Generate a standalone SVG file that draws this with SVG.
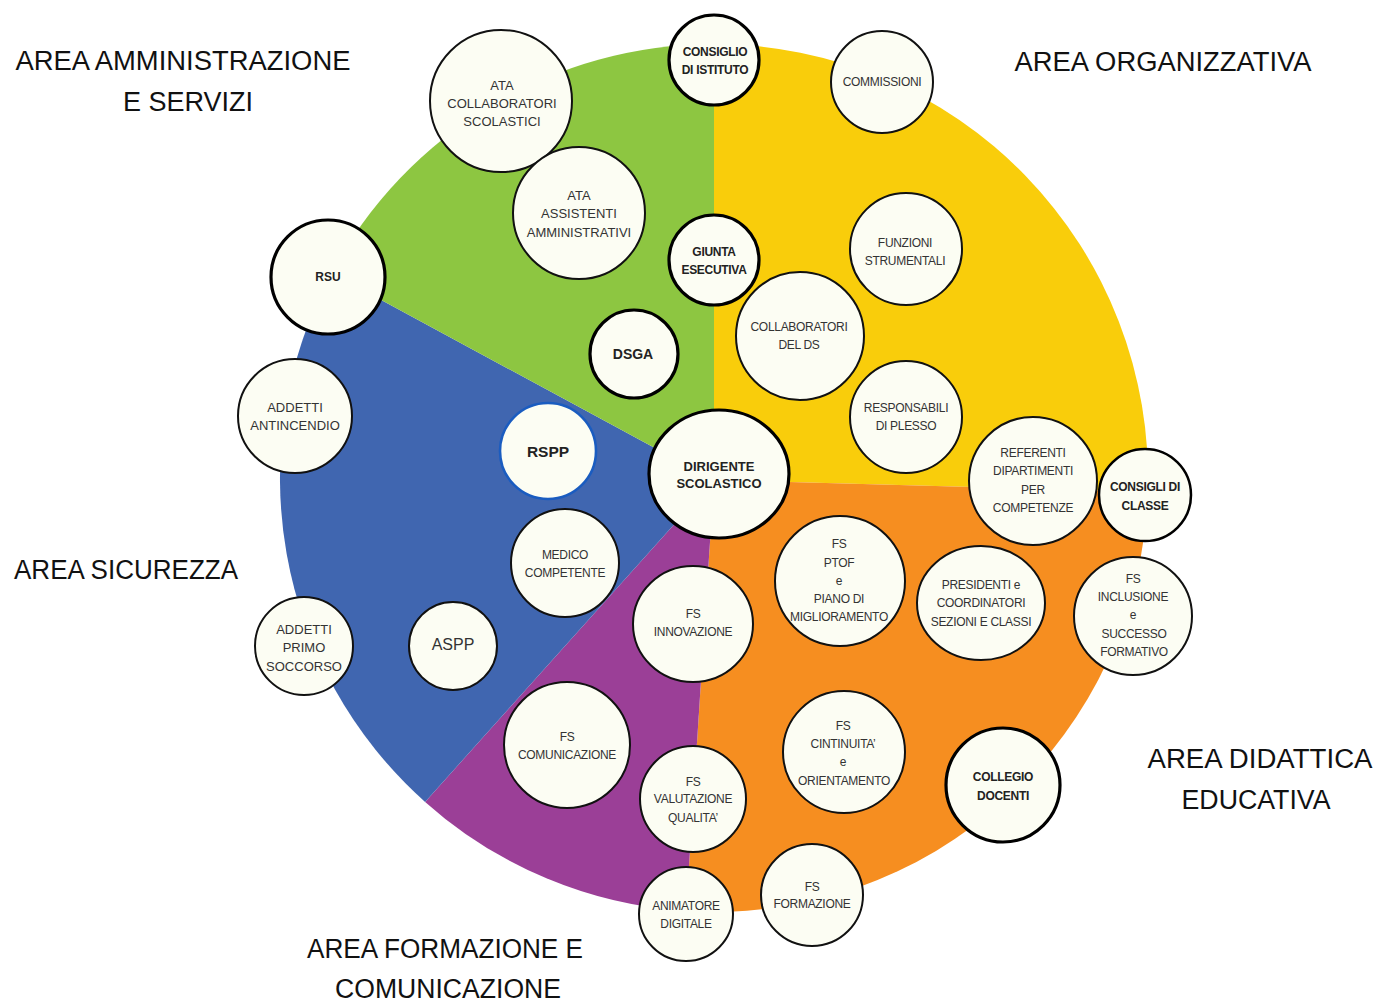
<svg xmlns="http://www.w3.org/2000/svg" width="1377" height="1003" viewBox="0 0 1377 1003">
<style>
.area{font-family:"Liberation Sans",Arial,sans-serif;font-size:27px;fill:#111;text-anchor:middle}
.n circle,.n ellipse{fill:#FCFDF3;stroke:#111;stroke-width:2}
.b circle,.b ellipse{stroke:#000;stroke-width:3.2}
.n text{font-family:"Liberation Sans",Arial,sans-serif;font-size:12px;letter-spacing:-0.3px;fill:#333;text-anchor:middle}
.b text{font-weight:bold;fill:#222}
.n text.m{font-size:13px;letter-spacing:0}
</style>
<rect width="1377" height="1003" fill="#fff"/>
<g id="pie">
<path d="M714,480 L714,44 A434,434 0 0 1 1147.8,491.7 Z" fill="#F9CD0B"/>
<path d="M714,480 L1147.8,491.7 A434,434 0 0 1 686.1,911.1 Z" fill="#F68E20"/>
<path d="M714,480 L686.1,911.1 A434,434 0 0 1 425.1,801.9 Z" fill="#9B3F97"/>
<path d="M714,480 L425.1,801.9 A434,434 0 0 1 331.4,273.1 Z" fill="#4066B0"/>
<path d="M714,480 L331.4,273.1 A434,434 0 0 1 714,44 Z" fill="#8DC641"/>
</g>
<g id="labels">
<text class="area" x="183" y="70" textLength="335" lengthAdjust="spacingAndGlyphs">AREA AMMINISTRAZIONE</text>
<text class="area" x="188" y="111" textLength="130" lengthAdjust="spacingAndGlyphs">E SERVIZI</text>
<text class="area" x="1163" y="71" textLength="297" lengthAdjust="spacingAndGlyphs">AREA ORGANIZZATIVA</text>
<text class="area" x="126" y="579" textLength="224" lengthAdjust="spacingAndGlyphs">AREA SICUREZZA</text>
<text class="area" x="1260" y="768" textLength="225" lengthAdjust="spacingAndGlyphs">AREA DIDATTICA</text>
<text class="area" x="1256" y="809" textLength="149" lengthAdjust="spacingAndGlyphs">EDUCATIVA</text>
<text class="area" x="445" y="958" textLength="276" lengthAdjust="spacingAndGlyphs">AREA FORMAZIONE E</text>
<text class="area" x="448" y="998" textLength="226" lengthAdjust="spacingAndGlyphs">COMUNICAZIONE</text>
</g>
<g id="connectors"></g>
<g id="n-ata-coll" class="n"><circle cx="501" cy="101" r="71"/><text class="m" x="502" y="90">ATA</text><text class="m" x="502" y="108">COLLABORATORI</text><text class="m" x="502" y="126">SCOLASTICI</text></g>
<g id="n-ata-ass" class="n"><circle cx="579" cy="213" r="66"/><text class="m" x="579" y="200">ATA</text><text class="m" x="579" y="218">ASSISTENTI</text><text class="m" x="579" y="237">AMMINISTRATIVI</text></g>
<g id="n-consiglio-istituto" class="n b"><circle cx="714" cy="60" r="45"/><text x="715" y="56">CONSIGLIO</text><text x="715" y="74">DI ISTITUTO</text></g>
<g id="n-giunta" class="n b"><circle cx="714" cy="260" r="45"/><text x="714" y="256">GIUNTA</text><text x="714" y="274">ESECUTIVA</text></g>
<g id="n-commissioni" class="n"><circle cx="882" cy="82" r="51"/><text x="882" y="86">COMMISSIONI</text></g>
<g id="n-funzioni" class="n"><circle cx="906" cy="249" r="56"/><text x="905" y="247">FUNZIONI</text><text x="905" y="265">STRUMENTALI</text></g>
<g id="n-collab-ds" class="n"><circle cx="800" cy="336" r="64"/><text x="799" y="331">COLLABORATORI</text><text x="799" y="349">DEL DS</text></g>
<g id="n-dsga" class="n b"><circle cx="634" cy="354" r="44"/><text x="633" y="359" style="font-size:14px;letter-spacing:0">DSGA</text></g>
<g id="n-rsu" class="n b"><circle cx="328" cy="277" r="57"/><text x="328" y="281" style="letter-spacing:0">RSU</text></g>
<g id="n-antincendio" class="n"><circle cx="295" cy="416" r="57"/><text class="m" x="295" y="412">ADDETTI</text><text class="m" x="295" y="430">ANTINCENDIO</text></g>
<g id="n-rspp" class="n"><circle cx="548" cy="451" r="48" style="stroke:#1A5CC0;stroke-width:2.6"/><text x="548" y="457" style="font-size:15.5px;font-weight:bold;letter-spacing:0;fill:#222">RSPP</text></g>
<g id="n-dirigente" class="n b"><ellipse cx="719" cy="474" rx="70" ry="64"/><text x="719" y="471" style="font-size:13px;letter-spacing:0">DIRIGENTE</text><text x="719" y="488" style="font-size:13px;letter-spacing:0">SCOLASTICO</text></g>
<g id="n-responsabili" class="n"><circle cx="906" cy="417" r="56"/><text x="906" y="412">RESPONSABILI</text><text x="906" y="430">DI PLESSO</text></g>
<g id="n-referenti" class="n"><circle cx="1033" cy="481" r="64"/><text x="1033" y="457">REFERENTI</text><text x="1033" y="475">DIPARTIMENTI</text><text x="1033" y="494">PER</text><text x="1033" y="512">COMPETENZE</text></g>
<g id="n-consigli-classe" class="n b"><circle cx="1145" cy="495" r="46" style="stroke-width:2.5"/><text x="1145" y="491">CONSIGLI DI</text><text x="1145" y="510">CLASSE</text></g>
<g id="n-medico" class="n"><circle cx="565" cy="563" r="54"/><text x="565" y="559">MEDICO</text><text x="565" y="577">COMPETENTE</text></g>
<g id="n-fs-ptof" class="n"><circle cx="840" cy="581" r="65"/><text x="839" y="548">FS</text><text x="839" y="567">PTOF</text><text x="839" y="585">e</text><text x="839" y="603">PIANO DI</text><text x="839" y="621">MIGLIORAMENTO</text></g>
<g id="n-presidenti" class="n"><ellipse cx="981" cy="603" rx="64" ry="57"/><text x="981" y="589">PRESIDENTI e</text><text x="981" y="607">COORDINATORI</text><text x="981" y="626">SEZIONI E CLASSI</text></g>
<g id="n-fs-inclusione" class="n"><circle cx="1133" cy="616" r="59"/><text x="1133" y="583">FS</text><text x="1133" y="601">INCLUSIONE</text><text x="1133" y="619">e</text><text x="1134" y="638">SUCCESSO</text><text x="1134" y="656">FORMATIVO</text></g>
<g id="n-fs-innovazione" class="n"><ellipse cx="693" cy="624" rx="60" ry="58"/><text x="693" y="618">FS</text><text x="693" y="636">INNOVAZIONE</text></g>
<g id="n-primo-soccorso" class="n"><circle cx="304" cy="646" r="49"/><text class="m" x="304" y="634">ADDETTI</text><text class="m" x="304" y="652">PRIMO</text><text class="m" x="304" y="671">SOCCORSO</text></g>
<g id="n-aspp" class="n"><circle cx="453" cy="646" r="44"/><text x="453" y="650" style="font-size:16px;letter-spacing:0">ASPP</text></g>
<g id="n-fs-comunicazione" class="n"><circle cx="567" cy="745" r="63"/><text x="567" y="741">FS</text><text x="567" y="759">COMUNICAZIONE</text></g>
<g id="n-fs-continuita" class="n"><circle cx="844" cy="752" r="61"/><text x="843" y="730">FS</text><text x="843" y="748">CINTINUITA’</text><text x="843" y="766">e</text><text x="844" y="785">ORIENTAMENTO</text></g>
<g id="n-collegio" class="n b"><circle cx="1003" cy="785" r="57"/><text x="1003" y="781">COLLEGIO</text><text x="1003" y="800">DOCENTI</text></g>
<g id="n-fs-valutazione" class="n"><circle cx="693" cy="799" r="53"/><text x="693" y="786">FS</text><text x="693" y="803">VALUTAZIONE</text><text x="693" y="822">QUALITA’</text></g>
<g id="n-animatore" class="n"><circle cx="686" cy="914" r="47"/><text x="686" y="910">ANIMATORE</text><text x="686" y="928">DIGITALE</text></g>
<g id="n-fs-formazione" class="n"><circle cx="812" cy="895" r="51"/><text x="812" y="891">FS</text><text x="812" y="908">FORMAZIONE</text></g>
</svg>
